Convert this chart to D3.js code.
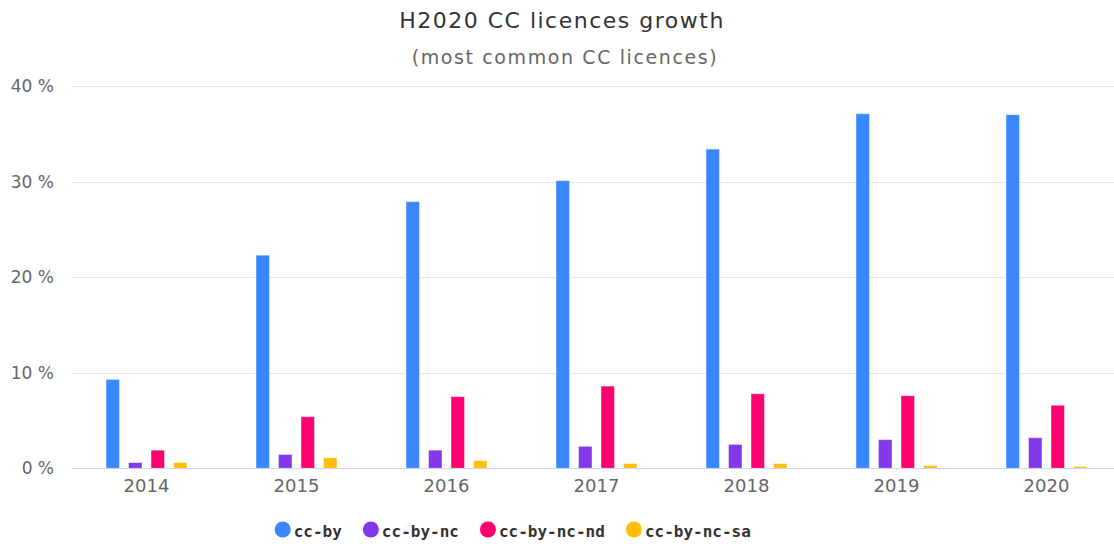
<!DOCTYPE html>
<html>
<head>
<meta charset="utf-8">
<script src="https://cdn.jsdelivr.net/npm/d3@7"></script>
<style>
	body { margin: 0; background: #fff; }
	svg { display: block; }
</style>
</head>
<body>
<div id="chart"></div>
<script>
var years = ["2014", "2015", "2016", "2017", "2018", "2019", "2020"];
var licences = ["cc-by", "cc-by-nc", "cc-by-nc-nd", "cc-by-nc-sa"];
var ccBy = [9.3, 22.3, 27.9, 30.1, 33.4, 37.1, 37.0];
var ccByNc = [0.6, 1.45, 1.9, 2.3, 2.5, 3.0, 3.2];
var ccByNcNd = [1.9, 5.4, 7.5, 8.6, 7.8, 7.6, 6.6];
var ccByNcSa = [0.6, 1.1, 0.8, 0.5, 0.5, 0.3, 0.2];
var yTicks = [0, 10, 20, 30, 40];

var colors = ["#3a86ff", "#8338ec", "#ff006e", "#ffbe0b"];
var seriesValues = [ccBy, ccByNc, ccByNcNd, ccByNcSa];

var width = 1114;
var height = 544;
var margin = {top: 86, left: 72, bottom: 76};

var svg = d3.select('#chart')
	.append('svg')
	.attr('width', width)
	.attr('height', height);

// titles
svg.append('text')
	.attr('x', 562)
	.attr('y', 28)
	.attr('text-anchor', 'middle')
	.style('font-family', 'DejaVu Sans, sans-serif')
	.style('font-size', '22px')
	.style('letter-spacing', '1.5px')
	.style('fill', '#333333')
	.text('H2020 CC licences growth');

svg.append('text')
	.attr('x', 565)
	.attr('y', 64)
	.attr('text-anchor', 'middle')
	.style('font-family', 'DejaVu Sans, sans-serif')
	.style('font-size', '19px')
	.style('letter-spacing', '1.6px')
	.style('fill', '#666666')
	.text('(most common CC licences)');

var x0 = d3.scaleBand()
	.domain(years)
	.range([71.5, 1121.5])
	.padding(0);

var x1 = d3.scaleBand()
	.domain(licences)
	.range([x0.bandwidth() * 0.2, x0.bandwidth() * 0.8])
	.paddingInner(0.4)
	.paddingOuter(0.2);

var y = d3.scaleLinear()
	.domain([0, 40])
	.range([468.3, 86]);

// grid
svg.append('g')
	.selectAll('line')
	.data(yTicks.slice(1))
	.enter()
	.append('line')
	.attr('x1', margin.left)
	.attr('x2', width)
	.attr('y1', function(d) { return Math.round(y(d)) + 0.5; })
	.attr('y2', function(d) { return Math.round(y(d)) + 0.5; })
	.style('stroke', '#e6e6e6')
	.style('stroke-width', 1);

// y axis labels
var yAxis = d3.axisLeft(y)
	.tickValues(yTicks)
	.tickSize(0)
	.tickPadding(0)
	.tickFormat(function(d) { return d + ' %'; });

var gy = svg.append('g')
	.attr('transform', 'translate(' + 54 + ',0)')
	.call(yAxis);
gy.select('.domain').remove();
gy.selectAll('text')
	.style('font-family', 'DejaVu Sans, sans-serif')
	.style('font-size', '17px')
	.style('fill', '#666666');

// bars
var groups = svg.selectAll('.year')
	.data(years)
	.enter()
	.append('g')
	.attr('class', 'year')
	.attr('transform', function(d) { return 'translate(' + x0(d) + ',0)'; });

groups.selectAll('rect')
	.data(function(d, i) {
		return licences.map(function(l, j) {
			return {licence: l, value: seriesValues[j][i], color: colors[j]};
		});
	})
	.enter()
	.append('rect')
	.attr('x', function(d) { return x1(d.licence); })
	.attr('width', x1.bandwidth())
	.attr('y', function(d) { return y(d.value); })
	.attr('height', function(d) { return y(0) - y(d.value); })
	.style('fill', function(d) { return d.color; })
	.style('stroke', '#ffffff')
	.style('stroke-opacity', 0.45)
	.style('stroke-width', 1);

// x axis
var xAxis = d3.axisBottom(x0)
	.tickSize(0)
	.tickPadding(11);

var gx = svg.append('g')
	.attr('transform', 'translate(0,' + 468.5 + ')')
	.call(xAxis);
gx.select('.domain')
	.attr('d', 'M' + margin.left + ',0H' + width)
	.style('stroke', '#ccd6eb');
gx.selectAll('text')
	.style('font-family', 'DejaVu Sans, sans-serif')
	.style('font-size', '18px')
	.style('fill', '#666666');

// legend
var legend = svg.append('g').attr('class', 'legend');
var lx = 282.7;
licences.forEach(function(l, i) {
	legend.append('circle')
		.attr('cx', lx)
		.attr('cy', 529.5)
		.attr('r', 8)
		.style('fill', colors[i]);
	var t = legend.append('text')
		.attr('x', lx + 11)
		.attr('y', 537)
		.style('font-family', 'DejaVu Sans Mono, monospace')
		.style('font-weight', 'bold')
		.style('font-size', '16px')
		.style('fill', '#333333')
		.text(l);
	lx = lx + 11 + t.node().getComputedTextLength() + 21 + 8;
});
</script>
</body>
</html>
